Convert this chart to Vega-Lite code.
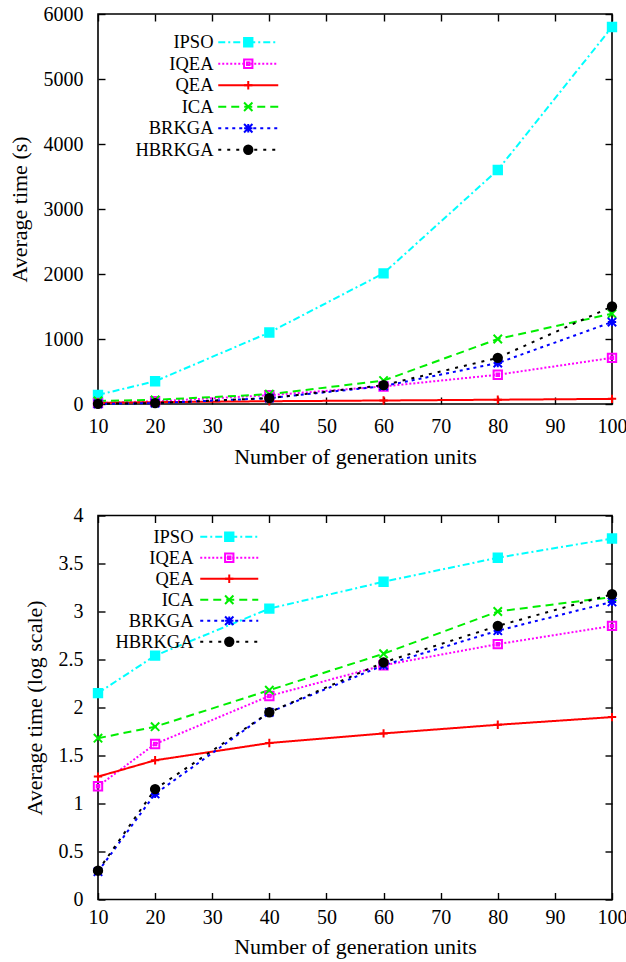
{
  "$schema": "https://vega.github.io/schema/vega-lite/v6.json",
  "padding": {"left": 7, "top": 3, "right": 0, "bottom": 2},
  "background": "white",
  "spacing": 36.5,
  "config": {
    "font": "Liberation Serif, Times New Roman, serif",
    "view": {"stroke": "black", "strokeWidth": 1.6},
    "axis": {
      "domain": false, "grid": false, "labelFlush": false,
      "tickColor": "black", "tickSize": -7, "tickWidth": 1.4,
      "labelFont": "Liberation Serif, Times New Roman, serif", "labelFontSize": 20, "labelColor": "black",
      "titleFont": "Liberation Serif, Times New Roman, serif", "titleFontSize": 22, "titleFontWeight": "normal", "titleColor": "black"
    },
    "legend": {"labelFont": "Liberation Serif, Times New Roman, serif", "labelFontSize": 18.5, "labelColor": "black"}
  },
  "data": {"values": [
    {"n": 10, "algo": "IPSO", "time": 140, "logt": 2.15},
    {"n": 20, "algo": "IPSO", "time": 350, "logt": 2.54},
    {"n": 40, "algo": "IPSO", "time": 1100, "logt": 3.03},
    {"n": 60, "algo": "IPSO", "time": 2010, "logt": 3.31},
    {"n": 80, "algo": "IPSO", "time": 3600, "logt": 3.56},
    {"n": 100, "algo": "IPSO", "time": 5800, "logt": 3.76},
    {"n": 10, "algo": "IQEA", "time": 15, "logt": 1.18},
    {"n": 20, "algo": "IQEA", "time": 42, "logt": 1.62},
    {"n": 40, "algo": "IQEA", "time": 135, "logt": 2.12},
    {"n": 60, "algo": "IQEA", "time": 270, "logt": 2.44},
    {"n": 80, "algo": "IQEA", "time": 450, "logt": 2.66},
    {"n": 100, "algo": "IQEA", "time": 710, "logt": 2.85},
    {"n": 10, "algo": "QEA", "time": 19, "logt": 1.28},
    {"n": 20, "algo": "QEA", "time": 28, "logt": 1.45},
    {"n": 40, "algo": "QEA", "time": 43, "logt": 1.63},
    {"n": 60, "algo": "QEA", "time": 54, "logt": 1.73},
    {"n": 80, "algo": "QEA", "time": 66, "logt": 1.82},
    {"n": 100, "algo": "QEA", "time": 79, "logt": 1.9},
    {"n": 10, "algo": "ICA", "time": 48, "logt": 1.68},
    {"n": 20, "algo": "ICA", "time": 63, "logt": 1.8},
    {"n": 40, "algo": "ICA", "time": 150, "logt": 2.18},
    {"n": 60, "algo": "ICA", "time": 360, "logt": 2.56},
    {"n": 80, "algo": "ICA", "time": 1000, "logt": 3.0},
    {"n": 100, "algo": "ICA", "time": 1390, "logt": 3.15},
    {"n": 10, "algo": "BRKGA", "time": 2, "logt": 0.29},
    {"n": 20, "algo": "BRKGA", "time": 13, "logt": 1.1},
    {"n": 40, "algo": "BRKGA", "time": 90, "logt": 1.95},
    {"n": 60, "algo": "BRKGA", "time": 275, "logt": 2.44},
    {"n": 80, "algo": "BRKGA", "time": 630, "logt": 2.8},
    {"n": 100, "algo": "BRKGA", "time": 1260, "logt": 3.1},
    {"n": 10, "algo": "HBRKGA", "time": 2, "logt": 0.3},
    {"n": 20, "algo": "HBRKGA", "time": 14, "logt": 1.15},
    {"n": 40, "algo": "HBRKGA", "time": 90, "logt": 1.95},
    {"n": 60, "algo": "HBRKGA", "time": 290, "logt": 2.47},
    {"n": 80, "algo": "HBRKGA", "time": 710, "logt": 2.85},
    {"n": 100, "algo": "HBRKGA", "time": 1500, "logt": 3.18}
  ]},
  "vconcat": [
    {
      "width": 514, "height": 390,
      "resolve": {
        "axis": {"x": "independent", "y": "independent"},
        "legend": {"stroke": "independent", "strokeDash": "independent", "shape": "independent", "fill": "independent"}
      },
      "layer": [
        {
          "mark": {"type": "line", "strokeWidth": 2},
          "encoding": {
            "x": {"field": "n", "type": "quantitative", "scale": {"domain": [10, 100], "nice": false},
                  "axis": {"orient": "bottom", "title": "Number of generation units", "values": [10,20,30,40,50,60,70,80,90,100], "labelPadding": 19, "titlePadding": 10}},
            "y": {"field": "time", "type": "quantitative", "scale": {"domain": [0, 6000], "nice": false},
                  "axis": {"orient": "left", "title": "Average time (s)", "values": [0,1000,2000,3000,4000,5000,6000], "format": "d", "labelPadding": 22, "titlePadding": 12}},
            "stroke": {"field": "algo", "type": "nominal",
              "scale": {"domain": ["IPSO","IQEA","QEA","ICA","BRKGA","HBRKGA"], "range": ["#00ffff","#ff00ff","#ff0000","#00ee00","#0000ff","#000000"]},
              "legend": {"title": null, "orient": "none", "legendX": 115, "legendY": 19, "padding": 0, "symbolType": "M-30,0H30", "symbolSize": 4, "symbolStrokeWidth": 2, "symbolOffset": 26, "labelOffset": -44, "labelAlign": "right", "rowPadding": 2.5}},
            "strokeDash": {"field": "algo", "type": "nominal",
              "scale": {"domain": ["IPSO","IQEA","QEA","ICA","BRKGA","HBRKGA"], "range": [[7,3,2,3],[2,2],[1,0],[8,5],[3,4],[3,6]]},
              "legend": {"title": null, "orient": "none", "legendX": 115, "legendY": 19, "padding": 0, "symbolType": "M-30,0H30", "symbolSize": 4, "symbolStrokeWidth": 2, "symbolOffset": 26, "labelOffset": -44, "labelAlign": "right", "rowPadding": 2.5}}
          }
        },
        {
          "mark": {"type": "point", "size": 70, "strokeWidth": 2, "opacity": 1},
          "encoding": {
            "x": {"field": "n", "type": "quantitative", "scale": {"domain": [10, 100], "nice": false},
                  "axis": {"orient": "top", "title": null, "labels": false, "values": [10,20,30,40,50,60,70,80,90,100]}},
            "y": {"field": "time", "type": "quantitative", "scale": {"domain": [0, 6000], "nice": false},
                  "axis": {"orient": "right", "title": null, "labels": false, "values": [0,1000,2000,3000,4000,5000,6000]}},
            "stroke": {"field": "algo", "type": "nominal",
              "scale": {"domain": ["IPSO","IQEA","QEA","ICA","BRKGA","HBRKGA"], "range": ["#00ffff","#ff00ff","#ff0000","#00ee00","#0000ff","#000000"]},
              "legend": {"title": null, "orient": "none", "legendX": 115, "legendY": 19, "padding": 0, "symbolSize": 70, "symbolStrokeWidth": 2, "symbolOpacity": 1, "symbolOffset": 26, "labelOffset": -44, "labelAlign": "right", "labelColor": "transparent", "rowPadding": 2.5}},
            "fill": {"field": "algo", "type": "nominal",
              "scale": {"domain": ["IPSO","IQEA","QEA","ICA","BRKGA","HBRKGA"], "range": ["#00ffff","transparent","transparent","transparent","transparent","#000000"]},
              "legend": {"title": null, "orient": "none", "legendX": 115, "legendY": 19, "padding": 0, "symbolSize": 70, "symbolStrokeWidth": 2, "symbolOpacity": 1, "symbolOffset": 26, "labelOffset": -44, "labelAlign": "right", "labelColor": "transparent", "rowPadding": 2.5}},
            "shape": {"field": "algo", "type": "nominal",
              "scale": {"domain": ["IPSO","IQEA","QEA","ICA","BRKGA","HBRKGA"], "range": ["square","M-1,-1H1V1H-1Z M-0.3,-0.3H0.3V0.3H-0.3Z","M-1,0H1M0,-1V1","M-1,-1L1,1M1,-1L-1,1","M-1,-1L1,1M1,-1L-1,1M-1,0H1M0,-1V1","circle"]},
              "legend": {"title": null, "orient": "none", "legendX": 115, "legendY": 19, "padding": 0, "symbolSize": 70, "symbolStrokeWidth": 2, "symbolOpacity": 1, "symbolOffset": 26, "labelOffset": -44, "labelAlign": "right", "labelColor": "transparent", "rowPadding": 2.5}}
          }
        }
      ]
    },
    {
      "width": 514, "height": 384,
      "resolve": {
        "axis": {"x": "independent", "y": "independent"},
        "legend": {"stroke": "independent", "strokeDash": "independent", "shape": "independent", "fill": "independent"}
      },
      "layer": [
        {
          "mark": {"type": "line", "strokeWidth": 2},
          "encoding": {
            "x": {"field": "n", "type": "quantitative", "scale": {"domain": [10, 100], "nice": false},
                  "axis": {"orient": "bottom", "title": "Number of generation units", "values": [10,20,30,40,50,60,70,80,90,100], "labelPadding": 15, "titlePadding": 9}},
            "y": {"field": "logt", "type": "quantitative", "scale": {"domain": [0, 4], "nice": false},
                  "axis": {"orient": "left", "title": "Average time (log scale)", "values": [0,0.5,1,1.5,2,2.5,3,3.5,4], "format": "~g", "labelPadding": 22, "titlePadding": 12}},
            "stroke": {"field": "algo", "type": "nominal",
              "scale": {"domain": ["IPSO","IQEA","QEA","ICA","BRKGA","HBRKGA"], "range": ["#00ffff","#ff00ff","#ff0000","#00ee00","#0000ff","#000000"]},
              "legend": {"title": null, "orient": "none", "legendX": 102, "legendY": 12, "padding": 0, "symbolType": "M-29,0H29", "symbolSize": 4, "symbolStrokeWidth": 2, "symbolOffset": 20, "labelOffset": -45, "labelAlign": "right", "rowPadding": 2}},
            "strokeDash": {"field": "algo", "type": "nominal",
              "scale": {"domain": ["IPSO","IQEA","QEA","ICA","BRKGA","HBRKGA"], "range": [[7,3,2,3],[2,2],[1,0],[8,5],[3,4],[3,6]]},
              "legend": {"title": null, "orient": "none", "legendX": 102, "legendY": 12, "padding": 0, "symbolType": "M-29,0H29", "symbolSize": 4, "symbolStrokeWidth": 2, "symbolOffset": 20, "labelOffset": -45, "labelAlign": "right", "rowPadding": 2}}
          }
        },
        {
          "mark": {"type": "point", "size": 70, "strokeWidth": 2, "opacity": 1},
          "encoding": {
            "x": {"field": "n", "type": "quantitative", "scale": {"domain": [10, 100], "nice": false},
                  "axis": {"orient": "top", "title": null, "labels": false, "values": [10,20,30,40,50,60,70,80,90,100]}},
            "y": {"field": "logt", "type": "quantitative", "scale": {"domain": [0, 4], "nice": false},
                  "axis": {"orient": "right", "title": null, "labels": false, "values": [0,0.5,1,1.5,2,2.5,3,3.5,4]}},
            "stroke": {"field": "algo", "type": "nominal",
              "scale": {"domain": ["IPSO","IQEA","QEA","ICA","BRKGA","HBRKGA"], "range": ["#00ffff","#ff00ff","#ff0000","#00ee00","#0000ff","#000000"]},
              "legend": {"title": null, "orient": "none", "legendX": 102, "legendY": 12, "padding": 0, "symbolSize": 70, "symbolStrokeWidth": 2, "symbolOpacity": 1, "symbolOffset": 20, "labelOffset": -45, "labelAlign": "right", "labelColor": "transparent", "rowPadding": 2}},
            "fill": {"field": "algo", "type": "nominal",
              "scale": {"domain": ["IPSO","IQEA","QEA","ICA","BRKGA","HBRKGA"], "range": ["#00ffff","transparent","transparent","transparent","transparent","#000000"]},
              "legend": {"title": null, "orient": "none", "legendX": 102, "legendY": 12, "padding": 0, "symbolSize": 70, "symbolStrokeWidth": 2, "symbolOpacity": 1, "symbolOffset": 20, "labelOffset": -45, "labelAlign": "right", "labelColor": "transparent", "rowPadding": 2}},
            "shape": {"field": "algo", "type": "nominal",
              "scale": {"domain": ["IPSO","IQEA","QEA","ICA","BRKGA","HBRKGA"], "range": ["square","M-1,-1H1V1H-1Z M-0.3,-0.3H0.3V0.3H-0.3Z","M-1,0H1M0,-1V1","M-1,-1L1,1M1,-1L-1,1","M-1,-1L1,1M1,-1L-1,1M-1,0H1M0,-1V1","circle"]},
              "legend": {"title": null, "orient": "none", "legendX": 102, "legendY": 12, "padding": 0, "symbolSize": 70, "symbolStrokeWidth": 2, "symbolOpacity": 1, "symbolOffset": 20, "labelOffset": -45, "labelAlign": "right", "labelColor": "transparent", "rowPadding": 2}}
          }
        }
      ]
    }
  ]
}
